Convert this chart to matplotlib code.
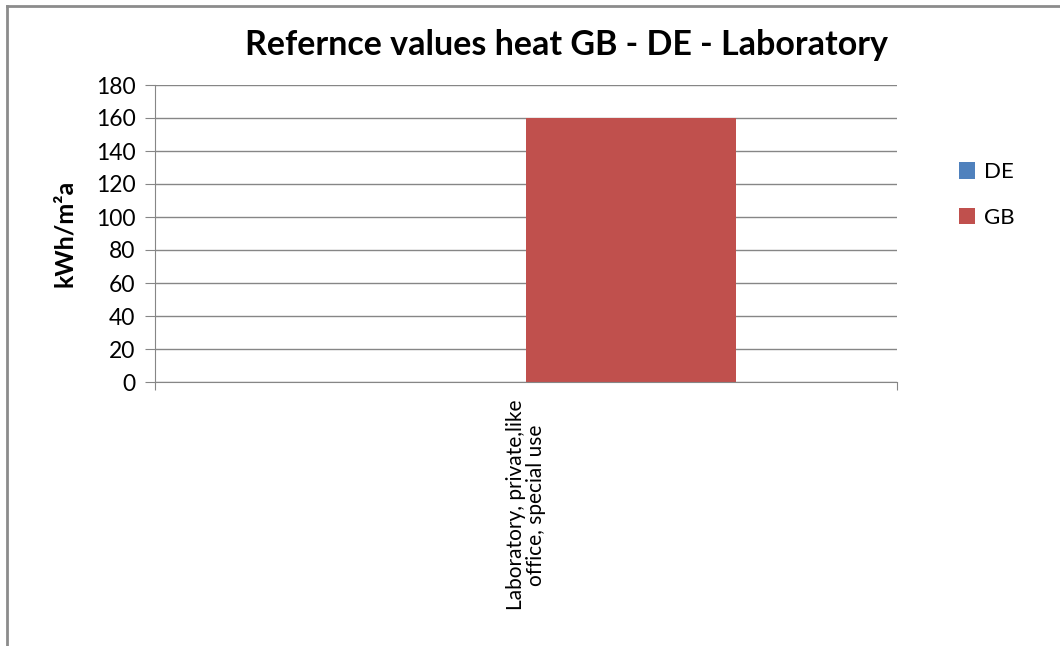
import numpy as np
import matplotlib.pyplot as plt
from matplotlib.patches import Patch
from matplotlib.lines import Line2D

categories = ["Laboratory, private,like\noffice, special use"]
series = ["DE", "GB"]
de_values = [0]
gb_values = [160]
colors = {"DE": "#4F81BD", "GB": "#C0504D"}

plt.rcParams['font.family'] = ['Lato', 'DejaVu Sans']

W, H = 1060, 646
fig = plt.figure(figsize=(W / 100, H / 100), dpi=100)
fig.patch.set_facecolor('white')

# plot area in pixels: x 155..897, y 85..382
ax = fig.add_axes([155 / W, 1 - 382 / H, (897 - 155) / W, (382 - 85) / H])

x = np.arange(len(categories))
width = 0.283
ax.bar(x - width / 2, de_values, width, color=colors["DE"], label="DE")
ax.bar(x + width / 2, gb_values, width, color=colors["GB"], label="GB")

ax.set_xlim(-0.5, 0.5)
ax.set_ylim(0, 180)
ax.set_yticks(np.arange(0, 181, 20))
ax.tick_params(axis='y', labelsize=16.5, length=7, color='#868686', pad=7)
ax.yaxis.grid(True, color='#868686', linewidth=1)
ax.set_axisbelow(True)

ax.set_xticks([-0.5, 0.5], minor=False)
ax.set_xticklabels(["", ""])
ax.tick_params(axis='x', length=6, color='#868686')
for i, c in enumerate(categories):
    ax.text(x[i], -0.06, c, transform=ax.get_xaxis_transform(), rotation=90,
            ha='center', va='top', fontsize=15, linespacing=1.0,
            multialignment='center')

for s in ['top', 'right']:
    ax.spines[s].set_visible(False)
for s in ['left', 'bottom']:
    ax.spines[s].set_color('#868686')

ax.set_ylabel("kWh/m²a", fontsize=18, fontweight='bold', labelpad=14)

fig.text(566 / W, 1 - 45 / H, "Refernce values heat GB - DE - Laboratory",
         ha='center', va='center', fontsize=24.5, fontweight='bold')

handles = [Patch(facecolor=colors[s], label=s) for s in series]
fig.legend(handles=handles, loc='center left',
           bbox_to_anchor=(943 / W, 1 - 195 / H), frameon=False,
           fontsize=16, handlelength=0.75, handleheight=0.75,
           labelspacing=1.15, handletextpad=0.4, borderpad=0.2)

# outer chart border (gray, only left/top visible in crop)
fig.add_artist(Line2D([6.5 / W, 6.5 / W], [0, 1 - 5.5 / H],
                      transform=fig.transFigure, color='#8c8c8c', linewidth=2))
fig.add_artist(Line2D([6.5 / W, 1], [1 - 5.5 / H, 1 - 5.5 / H],
                      transform=fig.transFigure, color='#8c8c8c', linewidth=2))

fig.savefig('out.png', dpi=100)
